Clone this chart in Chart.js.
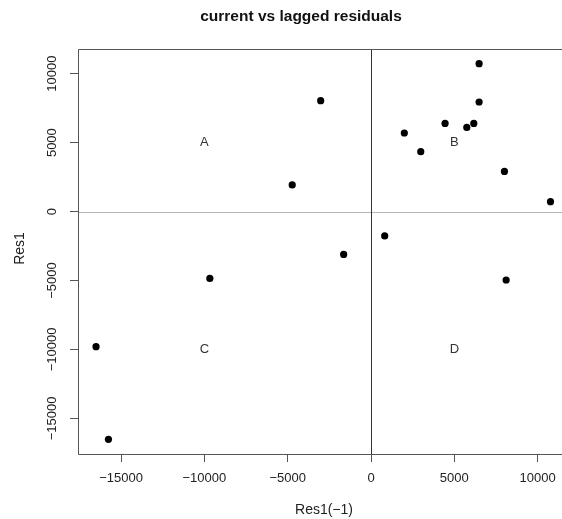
<!DOCTYPE html>
<html>
<head>
<meta charset="utf-8">
<script src="https://cdn.jsdelivr.net/npm/chart.js@4"></script>
<style>
  html, body { margin: 0; padding: 0; background: #fff; overflow: hidden; }
  #wrap { width: 562px; height: 519px; }
</style>
</head>
<body>
<div id="wrap"><canvas id="chart" width="562" height="519"></canvas></div>
<script>
// lagged residual Res1(-1) on x, current residual Res1 on y
const laggedRes  = [-3020, -4727, -1640, 6486, 6486, 4444, 5748, 6168, 2000, 2985, 8006, 10769,   822, -9670, -16498, -15754,  8108];
const currentRes = [ 8040,  1930, -3110, 10725, 7948, 6396, 6106, 6396, 5700, 4344, 2915,   718, -1769, -4844,  -9797, -16519, -4960];

const xTickValues = [-15000, -10000, -5000, 0, 5000, 10000];
const yTickValues = [-15000, -10000, -5000, 0, 5000, 10000];

// quadrant letters
const quadLabels = ["A", "B", "C", "D"];
const quadX = [-10000, 5000, -10000, 5000];
const quadY = [5000, 5000, -10000, -10000];

const FONT = "'Liberation Sans', Arial, Helvetica, sans-serif";
const fmt = v => String(v).replace("-", "\u2212");

const decor = {
  id: "decor",
  beforeDatasetsDraw(chart) {
    const { ctx, chartArea: a, scales: { x, y } } = chart;
    ctx.save();
    ctx.lineWidth = 1;
    // horizontal zero line (grey)
    const py0 = Math.round(y.getPixelForValue(0)) + 0.5;
    ctx.strokeStyle = "#b4b4b4";
    ctx.beginPath(); ctx.moveTo(a.left, py0); ctx.lineTo(a.right, py0); ctx.stroke();
    // vertical zero line (dark)
    const px0 = Math.round(x.getPixelForValue(0)) + 0.5;
    ctx.strokeStyle = "#333";
    ctx.beginPath(); ctx.moveTo(px0, a.top); ctx.lineTo(px0, a.bottom); ctx.stroke();
    // quadrant letters
    ctx.fillStyle = "#333";
    ctx.font = "13px " + FONT;
    ctx.textAlign = "center";
    ctx.textBaseline = "middle";
    quadLabels.forEach((t, i) => {
      ctx.fillText(t, x.getPixelForValue(quadX[i]), y.getPixelForValue(quadY[i]));
    });
    ctx.restore();
  },
  afterDraw(chart) {
    const { ctx, chartArea: a, scales: { y } } = chart;
    ctx.save();
    // box: the right side is cut off in the source image
    ctx.strokeStyle = "#555";
    ctx.lineWidth = 1;
    const l = Math.round(a.left) + 0.5, t = Math.round(a.top) + 0.5, b = Math.round(a.bottom) + 0.5;
    ctx.beginPath();
    ctx.moveTo(a.right + 10, t); ctx.lineTo(l, t); ctx.lineTo(l, b); ctx.lineTo(a.right + 10, b);
    ctx.stroke();
    ctx.fillStyle = "#222";
    ctx.textAlign = "center";
    ctx.textBaseline = "middle";
    // y tick labels, rotated like R
    ctx.font = "13px " + FONT;
    y.ticks.forEach(tk => {
      ctx.save();
      ctx.translate(52, y.getPixelForValue(tk.value));
      ctx.rotate(-Math.PI / 2);
      ctx.fillText(fmt(tk.value), 0, 0);
      ctx.restore();
    });
    // axis titles
    ctx.font = "14px " + FONT;
    ctx.fillText("Res1(\u22121)", 324, 510);
    ctx.save();
    ctx.translate(20, (a.top + a.bottom) / 2 - 3);
    ctx.rotate(-Math.PI / 2);
    ctx.fillText("Res1", 0, 0);
    ctx.restore();
    // main title
    ctx.fillStyle = "#111";
    ctx.font = "bold 15.5px " + FONT;
    ctx.fillText("current vs lagged residuals", 301, 17);
    ctx.restore();
  }
};

new Chart(document.getElementById("chart"), {
  type: "scatter",
  data: {
    datasets: [{
      data: laggedRes.map((v, i) => ({ x: v, y: currentRes[i] })),
      backgroundColor: "#000",
      borderColor: "#000",
      pointRadius: 3.6,
      pointHoverRadius: 3.6,
      borderWidth: 0
    }]
  },
  options: {
    responsive: false,
    animation: false,
    devicePixelRatio: 1,
    layout: { autoPadding: false, padding: { top: 49, right: 0, left: 0, bottom: 0 } },
    plugins: { legend: { display: false }, tooltip: { enabled: false }, title: { display: false } },
    scales: {
      x: {
        type: "linear",
        min: -17580, max: 11460,
        afterBuildTicks: s => { s.ticks = xTickValues.map(v => ({ value: v })); },
        afterFit: s => { s.height = 65; s.paddingLeft = 0; s.paddingRight = 0; },
        grid: { drawOnChartArea: false, drawTicks: true, tickLength: 8, color: "#555" },
        border: { display: false },
        ticks: {
          padding: 9,
          color: "#222",
          font: { family: FONT, size: 13 },
          maxRotation: 0,
          callback: v => fmt(v)
        }
      },
      y: {
        type: "linear",
        min: -17580, max: 11790,
        afterBuildTicks: s => { s.ticks = yTickValues.map(v => ({ value: v })); },
        afterFit: s => { s.width = 78; s.paddingTop = 0; s.paddingBottom = 0; },
        grid: { drawOnChartArea: false, drawTicks: true, tickLength: 8, color: "#555" },
        border: { display: false },
        ticks: { display: false }
      }
    }
  },
  plugins: [decor]
});
</script>
</body>
</html>
